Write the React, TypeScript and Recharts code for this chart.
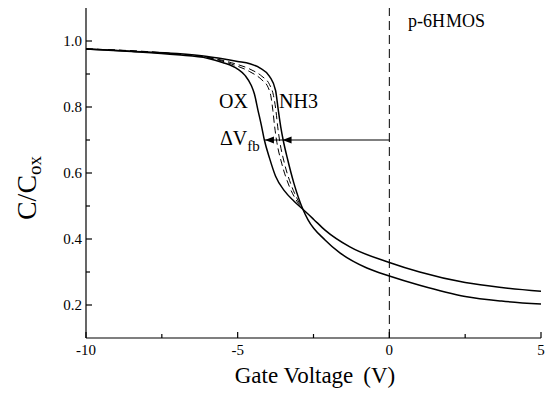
import * as React from 'react';
import {
  ComposedChart,
  Line,
  Scatter,
  XAxis,
  YAxis,
  ReferenceLine,
} from 'recharts';

// gate voltage (V) and normalized capacitance
const oxV = [-10, -8.5, -7, -6, -5.5, -5, -4.75, -4.55, -4.45, -4.33, -4.22, -4.12, -3.95, -3.75, -3.45, -3.15, -2.85, -2.5, -2.12, -1.3, 0, 1, 2.5, 3.7, 5];
const oxC = [0.976, 0.968, 0.958, 0.948, 0.935, 0.915, 0.895, 0.865, 0.84, 0.79, 0.745, 0.7, 0.645, 0.59, 0.545, 0.515, 0.49, 0.46, 0.427, 0.376, 0.329, 0.3, 0.268, 0.253, 0.242];

const nh3V = [-10, -8.5, -7, -6, -5.5, -5, -4.6, -4.26, -3.95, -3.75, -3.66, -3.58, -3.5, -3.35, -3.15, -2.85, -2.68, -2.12, -1.63, -0.74, 0, 1, 2.5, 3.7, 5];
const nh3C = [0.976, 0.969, 0.962, 0.953, 0.946, 0.938, 0.931, 0.918, 0.893, 0.85, 0.79, 0.74, 0.7, 0.64, 0.57, 0.49, 0.458, 0.397, 0.358, 0.312, 0.288, 0.26, 0.226, 0.212, 0.203];

const idealAV = [-10, -7, -6, -5.2, -4.6, -4.2, -4.0, -3.9, -3.84, -3.78, -3.72, -3.55, -3.3, -3.05, -2.85];
const idealAC = [0.976, 0.96, 0.95, 0.93, 0.907, 0.882, 0.86, 0.83, 0.79, 0.74, 0.7, 0.63, 0.56, 0.515, 0.49];

const idealBV = [-10, -7, -6, -5.2, -4.6, -4.2, -3.95, -3.82, -3.74, -3.68, -3.62, -3.46, -3.22, -3.0, -2.85];
const idealBC = [0.976, 0.961, 0.951, 0.934, 0.915, 0.893, 0.868, 0.835, 0.79, 0.74, 0.7, 0.63, 0.56, 0.515, 0.49];

// flatband shift arrow
const arrowV = [-4.1, -3.52];
const arrowC = [0.7, 0.7];

const xTicks = [-10, -7.5, -5, -2.5, 0, 2.5, 5];
const yTicks = [0.2, 0.3, 0.4, 0.5, 0.6, 0.7, 0.8, 0.9, 1.0];

const zip = (vs: number[], cs: number[]) => vs.map((v, i) => ({ v, c: cs[i] }));

const oxData = zip(oxV, oxC);
const nh3Data = zip(nh3V, nh3C);
const idealAData = zip(idealAV, idealAC);
const idealBData = zip(idealBV, idealBC);
const arrowData = zip(arrowV, arrowC);

const FONT = "'Liberation Serif', 'DejaVu Serif', serif";
const fontStyle = { fontFamily: FONT };

const isMajorX = (v: number) => v % 5 === 0;
const isMajorY = (v: number) => Math.round(v * 10) % 2 === 0;

const BottomTick = (props: any) => {
  const { x, y, payload } = props;
  const major = isMajorX(payload.value);
  return (
    <g>
      <line x1={x} y1={y} x2={x} y2={y - (major ? 6 : 4)} stroke="#000" strokeWidth={1.2} />
      {major && (
        <text x={x} y={y + 17} textAnchor="middle" style={fontStyle} fontSize={15} fill="#000">
          {String(payload.value)}
        </text>
      )}
    </g>
  );
};

const TopTick = (props: any) => {
  const { x, y, payload } = props;
  const major = isMajorX(payload.value);
  return <line x1={x} y1={y} x2={x} y2={y + (major ? 6 : 4)} stroke="#000" strokeWidth={1.2} />;
};

const LeftTick = (props: any) => {
  const { x, y, payload } = props;
  const major = isMajorY(payload.value);
  return (
    <g>
      <line x1={x} y1={y} x2={x + (major ? 6 : 4)} y2={y} stroke="#000" strokeWidth={1.2} />
      {major && (
        <text x={x - 4} y={y + 5} textAnchor="end" style={fontStyle} fontSize={15} fill="#000">
          {payload.value.toFixed(1)}
        </text>
      )}
    </g>
  );
};

const RightTick = (props: any) => {
  const { x, y, payload } = props;
  const major = isMajorY(payload.value);
  return <line x1={x} y1={y} x2={x - (major ? 6 : 4)} y2={y} stroke="#000" strokeWidth={1.2} />;
};

const ArrowHead = (props: any) => {
  const { cx, cy } = props;
  return <path d={`M${cx},${cy} L${cx + 9},${cy - 3.5} L${cx + 9},${cy + 3.5} Z`} fill="#000" />;
};

export default function App() {
  return (
    <div style={{ position: 'absolute', left: 0, top: 0, width: 545, height: 399, background: '#fff' }}>
      <ComposedChart width={545} height={399} margin={{ top: 8, right: 4, bottom: 0, left: 0 }}>
        <XAxis
          xAxisId="b"
          type="number"
          dataKey="v"
          domain={[-10, 5]}
          ticks={xTicks}
          interval={0}
          height={61}
          tickSize={0}
          tickMargin={0}
          tick={<BottomTick />}
          axisLine={{ stroke: '#000', strokeWidth: 1.2 }}
          allowDataOverflow
        />
        <XAxis
          xAxisId="t"
          orientation="top"
          type="number"
          dataKey="v"
          domain={[-10, 5]}
          ticks={xTicks}
          interval={0}
          height={0}
          tickSize={0}
          tickMargin={0}
          tick={<TopTick />}
          axisLine={{ stroke: '#000', strokeWidth: 1.2 }}
          allowDataOverflow
        />
        <YAxis
          yAxisId="l"
          type="number"
          dataKey="c"
          domain={[0.1, 1.1]}
          ticks={yTicks}
          interval={0}
          width={86}
          tickSize={0}
          tickMargin={0}
          tick={<LeftTick />}
          axisLine={{ stroke: '#000', strokeWidth: 1.2 }}
          allowDataOverflow
        />
        <YAxis
          yAxisId="r"
          orientation="right"
          type="number"
          dataKey="c"
          domain={[0.1, 1.1]}
          ticks={yTicks}
          interval={0}
          width={0}
          tickSize={0}
          tickMargin={0}
          tick={<RightTick />}
          axisLine={{ stroke: '#000', strokeWidth: 1.2 }}
          allowDataOverflow
        />
        <ReferenceLine xAxisId="b" yAxisId="l" x={0} stroke="#000" strokeWidth={1} strokeDasharray="9 5" />
        <ReferenceLine
          xAxisId="b"
          yAxisId="l"
          segment={[{ x: 0, y: 0.7 }, { x: -4.1, y: 0.7 }]}
          stroke="#000"
          strokeWidth={1.2}
        />
        <Line xAxisId="b" yAxisId="l" data={idealAData} dataKey="c" type="monotone" stroke="#000" strokeWidth={1} strokeDasharray="7 4" dot={false} activeDot={false} isAnimationActive={false} />
        <Line xAxisId="b" yAxisId="l" data={idealBData} dataKey="c" type="monotone" stroke="#000" strokeWidth={1} strokeDasharray="7 4" dot={false} activeDot={false} isAnimationActive={false} />
        <Line xAxisId="b" yAxisId="l" data={oxData} dataKey="c" type="monotone" stroke="#000" strokeWidth={1.5} dot={false} activeDot={false} isAnimationActive={false} />
        <Line xAxisId="b" yAxisId="l" data={nh3Data} dataKey="c" type="monotone" stroke="#000" strokeWidth={1.5} dot={false} activeDot={false} isAnimationActive={false} />
        <Scatter xAxisId="b" yAxisId="l" data={arrowData} dataKey="c" shape={<ArrowHead />} isAnimationActive={false} />
      </ComposedChart>
      <svg width={545} height={399} style={{ position: 'absolute', left: 0, top: 0, pointerEvents: 'none' }}>
        <g style={fontStyle} fill="#000">
          <text x={408} y={27} fontSize={18}>
            p-6H<tspan dx={1}>MOS</tspan>
          </text>
          <text x={219} y={108} fontSize={20}>OX</text>
          <text x={279} y={108} fontSize={20}>NH3</text>
          <text x={220} y={145} fontSize={20}>
            ΔV<tspan fontSize={15} dy={6}>fb</tspan>
          </text>
          <text x={315} y={383} textAnchor="middle" fontSize={23}>
            Gate Voltage<tspan dx={10}>(V)</tspan>
          </text>
          <text x={36} y={188} textAnchor="middle" fontSize={28} transform="rotate(-90 36 188)">
            C/C<tspan fontSize={19} dy={5}>ox</tspan>
          </text>
        </g>
      </svg>
    </div>
  );
}
